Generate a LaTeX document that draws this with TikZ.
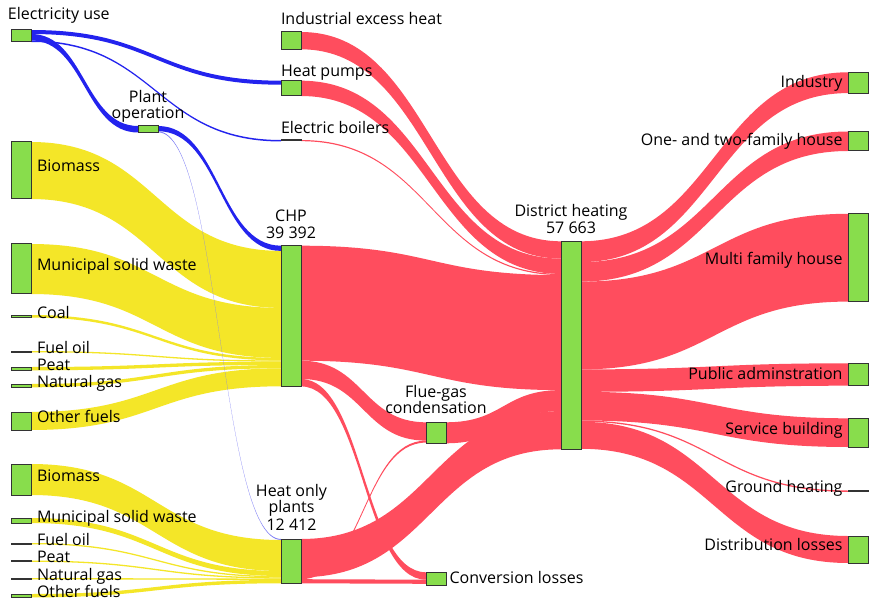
\documentclass[tikz,border=0pt]{standalone}
\usepackage{fontspec}
\setmainfont{Open Sans}
\usetikzlibrary{calc,backgrounds}
\definecolor{nodegreen}{HTML}{88DD4C}
\definecolor{nodeline}{HTML}{333333}
\definecolor{flowred}{HTML}{FF4D5E}
\definecolor{flowyellow}{HTML}{F4E628}
\definecolor{flowblue}{HTML}{2323EE}
\tikzset{
  nb/.style={draw=nodeline, fill=nodegreen, line width=1pt, minimum width=20pt,
    inner sep=0pt, outer sep=0pt},
  lbl/.style={inner sep=0pt, outer sep=0pt, font=\fontsize{16}{19}\selectfont, text=black},
}
% node: name, x left, y top, y bottom (pixel coordinates, y downwards)
\newcommand\nd[4]{\node[nb, minimum height={(#4-#3)*1pt}, anchor=north west] (#1) at (#2,#3) {};}
% band: colour, source, source offset, target, target offset, width
\newcommand\band[6]{%
  \fill[#1] let \p1=($(#2.north east)+(0,#3)$), \p2=($(#4.north west)+(0,#5)$) in
    (\x1,\y1) .. controls ({0.5*\x1+0.5*\x2},\y1) and ({0.5*\x1+0.5*\x2},\y2) .. (\x2,\y2)
    -- (\x2,{\y2-#6pt})
    .. controls ({0.5*\x1+0.5*\x2},{\y2-#6pt}) and ({0.5*\x1+0.5*\x2},{\y1-#6pt}) .. (\x1,{\y1-#6pt})
    -- cycle;}
\begin{document}
\begin{tikzpicture}[x=1pt,y=-1pt]
\useasboundingbox (0,0) rectangle (869,601);
% ---------- nodes ----------
\nd{elec}{11}{30}{42}
\nd{bioC}{11}{142}{199}
\nd{mswC}{11}{244}{294}
\nd{coalC}{11}{315}{317.5}
\nd{oilC}{11}{351}{352}
\nd{peatC}{11}{367}{370}
\nd{gasC}{11}{384}{387}
\nd{othC}{11}{412}{430}
\nd{bioH}{11}{464}{495}
\nd{mswH}{11}{518}{523}
\nd{oilH}{11}{543}{544}
\nd{peatH}{11}{560.5}{561.5}
\nd{gasH}{11}{578}{579}
\nd{othH}{11}{594}{597.5}
\nd{plantop}{138}{126}{132.5}
\nd{ieh}{281}{32}{49.3}
\nd{hp}{281}{80.7}{96}
\nd{eb}{281}{140}{141}
\nd{chp}{281}{245.7}{386.7}
\nd{hop}{281}{539}{583.3}
\nd{fgc}{426}{422.3}{443.3}
\nd{cl}{426}{572.3}{585}
\nd{dh}{561}{241.3}{449}
\nd{ind}{848}{72.3}{93.1}
\nd{otf}{848}{131.5}{151}
\nd{mfh}{848}{213.8}{301.6}
\nd{pa}{848}{363.3}{385.7}
\nd{sb}{848}{418.3}{447}
\nd{gh}{848}{490.5}{491.5}
\nd{dl}{848}{536}{563}
% ---------- flows ----------
\begin{pgfonlayer}{background}
\fill[white] (0,0) rectangle (869,601);
% yellow: fuels to CHP
\band{flowyellow}{bioC}{0}{chp}{5.2}{57}
\band{flowyellow}{mswC}{0}{chp}{62.2}{50}
\band{flowyellow}{coalC}{0}{chp}{112.2}{2.5}
\band{flowyellow}{oilC}{0}{chp}{114.7}{1.3}
\band{flowyellow}{peatC}{0}{chp}{116}{3.3}
\band{flowyellow}{gasC}{0}{chp}{119.3}{3.3}
\band{flowyellow}{othC}{0}{chp}{122.6}{18}
% yellow: fuels to heat only plants
\band{flowyellow}{bioH}{0}{hop}{1}{31}
\band{flowyellow}{mswH}{0}{hop}{32}{5}
\band{flowyellow}{oilH}{0}{hop}{37}{1.3}
\band{flowyellow}{peatH}{0}{hop}{38.3}{1.3}
\band{flowyellow}{gasH}{0}{hop}{39.6}{1.3}
\band{flowyellow}{othH}{0}{hop}{40.9}{3.4}
% blue: electricity
\band{flowblue}{elec}{0}{hp}{0}{4}
\band{flowblue}{elec}{4}{plantop}{0}{6.5}
\band{flowblue}{elec}{10.5}{eb}{0}{1.5}
\band{flowblue}{plantop}{0}{chp}{0}{5.2}
\band{flowblue!60}{plantop}{5.4}{hop}{0}{0.9}
% red: heat
\band{flowred}{ieh}{0}{dh}{0}{17.3}
\band{flowred}{hp}{0}{dh}{17.3}{15.3}
\band{flowred}{eb}{0}{dh}{32.6}{1.2}
\band{flowred}{chp}{0}{dh}{33.8}{115}
\band{flowred}{chp}{115}{fgc}{0}{18.3}
\band{flowred}{chp}{133.3}{cl}{0}{7.4}
\band{flowred}{fgc}{0}{dh}{148.8}{21}
\band{flowred}{hop}{0}{dh}{169.8}{38.2}
\band{flowred}{hop}{38.2}{fgc}{18.3}{2}
\band{flowred}{hop}{40.2}{cl}{7.4}{4.1}
\band{flowred}{dh}{0}{ind}{0}{20.8}
\band{flowred}{dh}{20.8}{otf}{0}{19.5}
\band{flowred}{dh}{40.3}{mfh}{0}{87.8}
\band{flowred}{dh}{128.1}{pa}{0}{22.4}
\band{flowred}{dh}{150.5}{sb}{0}{28.7}
\band{flowred}{dh}{179.2}{gh}{0}{1.3}
\band{flowred}{dh}{180.5}{dl}{0}{27}
\end{pgfonlayer}
% ---------- labels ----------
\node[lbl, anchor=base west] (elecL) at (8,20) {Electricity use};
\node[lbl, anchor=base] (plantL1) at (148,102.7) {Plant};
\node[lbl, anchor=base] (plantL2) at (148,118.3) {operation};
\node[lbl, anchor=base west] (bioCL) at (37,172) {Biomass};
\node[lbl, anchor=base west] (mswCL) at (37,271) {Municipal solid waste};
\node[lbl, anchor=base west] (coalCL) at (37,318) {Coal};
\node[lbl, anchor=base west] (oilCL) at (37,353) {Fuel oil};
\node[lbl, anchor=base west] (peatCL) at (37,370.2) {Peat};
\node[lbl, anchor=base west] (gasCL) at (37,387.2) {Natural gas};
\node[lbl, anchor=base west] (othCL) at (37,422.7) {Other fuels};
\node[lbl, anchor=base west] (bioHL) at (37,481.2) {Biomass};
\node[lbl, anchor=base west] (mswHL) at (37,522.2) {Municipal solid waste};
\node[lbl, anchor=base west] (oilHL) at (37,545.2) {Fuel oil};
\node[lbl, anchor=base west] (peatHL) at (37,562.7) {Peat};
\node[lbl, anchor=base west] (gasHL) at (37,580.2) {Natural gas};
\node[lbl, anchor=base west] (othHL) at (37,597.2) {Other fuels};
\node[lbl, anchor=base west] (iehL) at (281,25) {Industrial excess heat};
\node[lbl, anchor=base west] (hpL) at (281,76.5) {Heat pumps};
\node[lbl, anchor=base west] (ebL) at (281,133.5) {Electric boilers};
\node[lbl, anchor=base] (chpL1) at (291,221.7) {CHP};
\node[lbl, anchor=base] (chpL2) at (291,238.3) {39 392};
\node[lbl, anchor=base] (hopL1) at (291.5,496) {Heat only};
\node[lbl, anchor=base] (hopL2) at (291.5,512.7) {plants};
\node[lbl, anchor=base] (hopL3) at (291.5,530) {12 412};
\node[lbl, anchor=base] (fgcL1) at (436,397.7) {Flue-gas};
\node[lbl, anchor=base] (fgcL2) at (436,413.3) {condensation};
\node[lbl, anchor=base west] (clL) at (449.5,583.3) {Conversion losses};
\node[lbl, anchor=base] (dhL1) at (571,216.7) {District heating};
\node[lbl, anchor=base] (dhL2) at (571,233.3) {57 663};
\node[lbl, anchor=base east] (indL) at (842.5,87.3) {Industry};
\node[lbl, anchor=base east] (otfL) at (842.5,145.7) {One- and two-family house};
\node[lbl, anchor=base east] (mfhL) at (842.5,265) {Multi family house};
\node[lbl, anchor=base east] (paL) at (842.5,379.3) {Public adminstration};
\node[lbl, anchor=base east] (sbL) at (842.5,434.3) {Service building};
\node[lbl, anchor=base east] (ghL) at (842.5,492.7) {Ground heating};
\node[lbl, anchor=base east] (dlL) at (842.5,550.7) {Distribution losses};
\end{tikzpicture}
\end{document}
